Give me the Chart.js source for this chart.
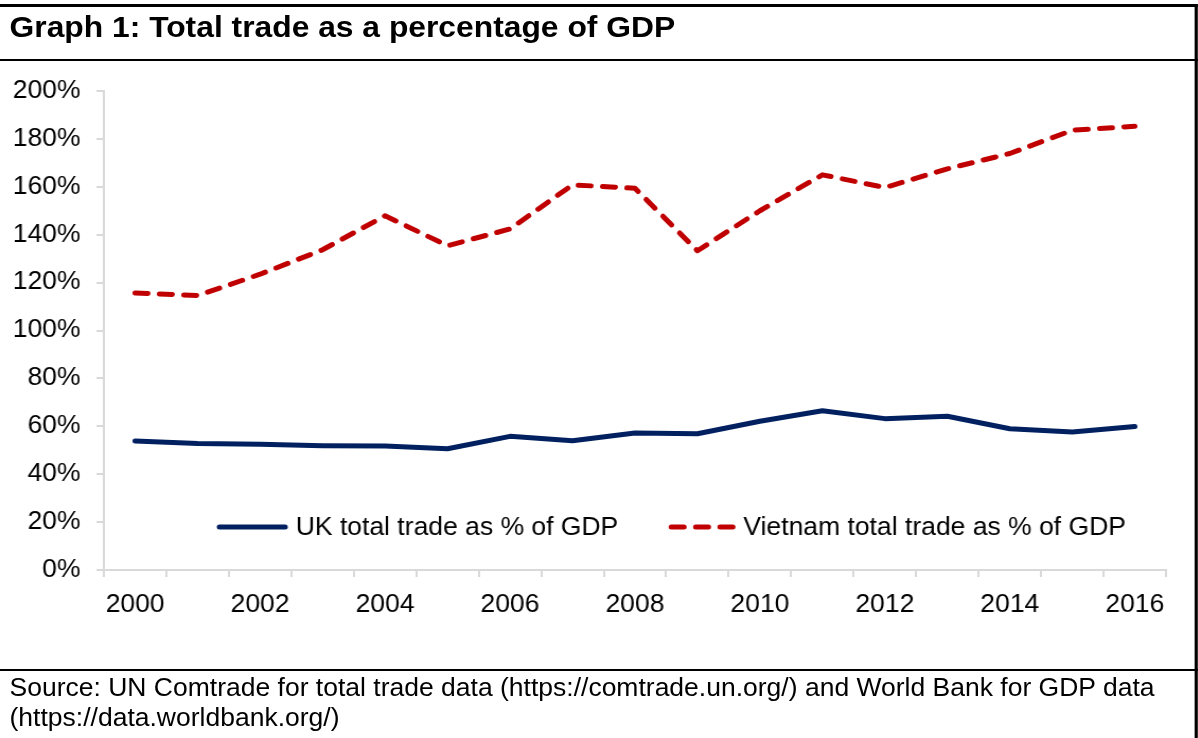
<!DOCTYPE html>
<html>
<head>
<meta charset="utf-8">
<script src="https://cdn.jsdelivr.net/npm/chart.js@4.4.1/dist/chart.umd.min.js"></script>
<style>
  html, body { margin: 0; padding: 0; background: #fff; }
  body { width: 1198px; height: 738px; overflow: hidden; position: relative; }
  /* the whole panel is laid out at 1130px and stretched to the window width */
  .panel {
    position: absolute; left: 0; top: 0; width: 1130px; height: 738px;
    transform: scaleX(1.06); transform-origin: 0 0;
    font-family: 'Liberation Sans', Arial, sans-serif; color: #000;
  }
  .rule { position: absolute; left: 0; width: 1130px; background: #000; }
  .right-edge { position: absolute; top: 4px; bottom: 0; left: 1127px; width: 3px; background: #000; }
  .title { position: absolute; left: 9px; top: 12px; font-size: 30px; line-height: 30px; font-weight: bold; white-space: nowrap; }
  .chart-box { position: absolute; left: 0; top: 61px; width: 1127px; height: 608px; }
  .source { position: absolute; left: 9px; top: 672px; font-size: 25px; line-height: 30px; white-space: nowrap; }
</style>
</head>
<body>
<div class="panel">
  <div class="rule" style="top:4px;height:3px"></div>
  <div class="title">Graph 1: Total trade as a percentage of GDP</div>
  <div class="rule" style="top:59px;height:2px"></div>
  <div class="chart-box"><canvas id="tradeChart"></canvas></div>
  <div class="rule" style="top:669px;height:2px"></div>
  <div class="source">Source: UN Comtrade for total trade data (https://comtrade.un.org/) and World Bank for GDP data<br>(https://data.worldbank.org/)</div>
  <div class="right-edge"></div>
</div>

<script>
const years = ['2000', '2001', '2002', '2003', '2004', '2005', '2006', '2007', '2008',
  '2009', '2010', '2011', '2012', '2013', '2014', '2015', '2016'];

// total trade as % of GDP
const ukTrade = [53.9, 52.8, 52.5, 51.9, 51.8, 50.6, 55.8, 54.0, 57.2,
  56.9, 62.1, 66.5, 63.2, 64.2, 59.0, 57.6, 59.9];
const vietnamTrade = [115.7, 114.6, 123.5, 133.7, 147.9, 135.4, 142.4, 160.8, 159.4,
  133.3, 150.0, 165.0, 159.7, 167.5, 173.9, 183.6, 185.3];

const seriesNames = ['UK total trade as % of GDP', 'Vietnam total trade as % of GDP'];

const FONT = "'Liberation Sans', Arial, sans-serif";
const AXIS_GREY = '#d9d9d9';

// legend sits inside the plot, just above the x axis
const innerLegend = {
  id: 'innerLegend',
  afterDatasetsDraw(chart) {
    const ctx = chart.ctx;
    const area = chart.chartArea;
    const y = area.bottom - 43;
    const swatchLen = [62, 58];
    let x = area.left + 109;
    ctx.save();
    ctx.font = '25px ' + FONT;
    ctx.textBaseline = 'middle';
    chart.data.datasets.forEach((ds, i) => {
      ctx.strokeStyle = ds.borderColor;
      ctx.lineWidth = ds.borderWidth;
      ctx.lineCap = 'round';
      ctx.setLineDash(ds.borderDash || []);
      ctx.beginPath();
      ctx.moveTo(x, y);
      ctx.lineTo(x + swatchLen[i], y);
      ctx.stroke();
      ctx.setLineDash([]);
      x += swatchLen[i] + 10;
      ctx.fillStyle = '#000';
      ctx.fillText(ds.label, x, y + 1);
      x += ctx.measureText(ds.label).width + 50;
    });
    ctx.restore();
  }
};

new Chart(document.getElementById('tradeChart'), {
  type: 'line',
  data: {
    labels: years,
    datasets: [{
      label: seriesNames[0],
      data: ukTrade,
      borderColor: '#002060',
      borderWidth: 5,
      borderJoinStyle: 'round',
      borderCapStyle: 'round',
      pointRadius: 0,
      tension: 0
    }, {
      label: seriesNames[1],
      data: vietnamTrade,
      borderColor: '#c00000',
      borderWidth: 5,
      borderDash: [12, 11],
      borderJoinStyle: 'round',
      borderCapStyle: 'round',
      pointRadius: 0,
      tension: 0
    }]
  },
  options: {
    responsive: true,
    maintainAspectRatio: false,
    animation: false,
    events: [],
    layout: { padding: { top: 30, right: 27, left: 0, bottom: 0 } },
    plugins: {
      legend: { display: false },
      tooltip: { enabled: false }
    },
    scales: {
      x: {
        offset: true,
        grid: { offset: true, drawOnChartArea: false, drawTicks: true, tickLength: 7, color: AXIS_GREY, lineWidth: 2 },
        border: { color: AXIS_GREY, width: 2 },
        ticks: {
          autoSkip: false,
          maxRotation: 0,
          padding: 13,
          color: '#000',
          font: { family: FONT, size: 25 },
          callback: (v, i) => (i % 2 === 0 ? years[i] : '')
        },
        afterFit: s => { s.height = 99; }
      },
      y: {
        min: 0,
        max: 200,
        grid: { drawOnChartArea: false, drawTicks: true, tickLength: 7, color: AXIS_GREY, lineWidth: 2 },
        border: { color: AXIS_GREY, width: 2 },
        ticks: {
          stepSize: 20,
          padding: 15,
          color: '#000',
          font: { family: FONT, size: 25 },
          callback: v => v + '%'
        },
        afterFit: s => { s.width = 98; }
      }
    }
  },
  plugins: [innerLegend]
});
</script>
</body>
</html>
